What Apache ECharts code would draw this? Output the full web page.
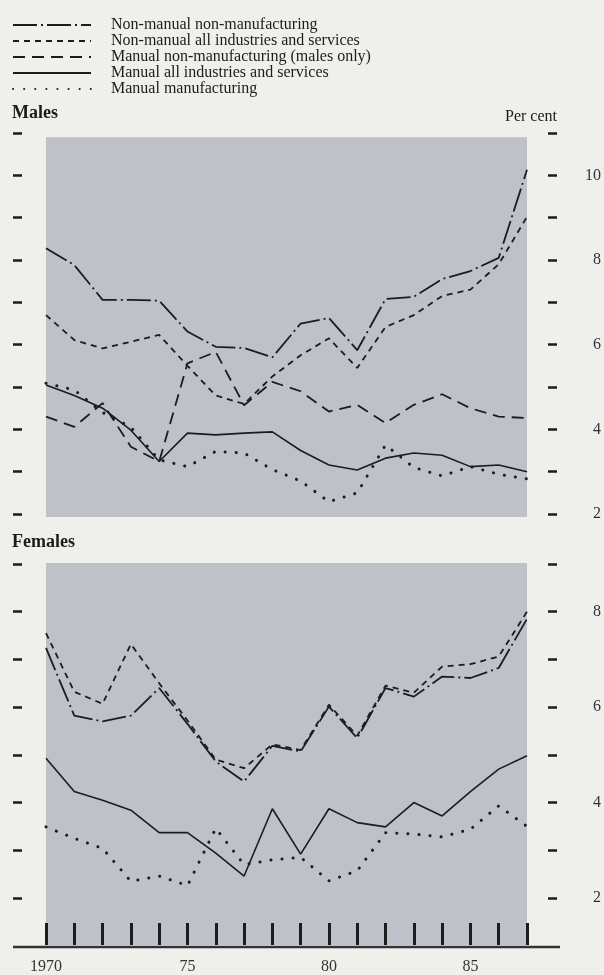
<!DOCTYPE html>
<html><head><meta charset="utf-8">
<script src="https://cdn.jsdelivr.net/npm/echarts@6/dist/echarts.min.js"></script>
<style>html,body{margin:0;padding:0;background:#efefec}#c{width:604px;height:975px}</style>
</head><body><div id="c"></div>
<script>
const years = [1970,1971,1972,1973,1974,1975,1976,1977,1978,1979,1980,1981,1982,1983,1984,1985,1986,1987];
const seriesNames = [
  'Non-manual non-manufacturing',
  'Non-manual all industries and services',
  'Manual non-manufacturing (males only)',
  'Manual all industries and services',
  'Manual manufacturing'
];
// Males (per cent)
const maleNonManualNonManuf = [8.28,7.88,7.06,7.06,7.04,6.31,5.95,5.92,5.7,6.5,6.63,5.87,7.08,7.13,7.55,7.74,8.05,10.13];
const maleNonManualAll      = [6.7,6.11,5.91,6.07,6.23,5.5,4.8,4.6,5.25,5.75,6.15,5.45,6.42,6.7,7.15,7.3,7.9,9.02];
const maleManualNonManuf    = [4.3,4.06,4.62,3.59,3.24,5.56,5.83,4.57,5.12,4.9,4.42,4.58,4.15,4.58,4.83,4.5,4.3,4.27];
const maleManualAll         = [5.05,4.8,4.5,3.98,3.24,3.91,3.87,3.91,3.94,3.5,3.16,3.04,3.32,3.44,3.39,3.12,3.16,3.0];
const maleManualManuf       = [5.09,4.93,4.4,4.05,3.28,3.12,3.48,3.44,3.05,2.78,2.29,2.5,3.63,3.1,2.9,3.12,2.94,2.83];
// Females (per cent)
const femNonManualNonManuf  = [7.24,5.82,5.7,5.82,6.4,5.65,4.86,4.44,5.19,5.07,6.01,5.35,6.4,6.22,6.64,6.61,6.82,7.85];
const femNonManualAll       = [7.55,6.32,6.07,7.32,6.5,5.72,4.9,4.72,5.22,5.1,6.05,5.4,6.45,6.3,6.85,6.9,7.06,8.0];
const femManualAll          = [4.93,4.23,4.05,3.84,3.37,3.37,2.94,2.46,3.87,2.92,3.87,3.58,3.49,4.0,3.72,4.23,4.7,4.98];
const femManualManuf        = [3.49,3.25,3.04,2.35,2.46,2.26,3.46,2.7,2.8,2.85,2.36,2.57,3.37,3.34,3.28,3.44,3.93,3.5];
// Axis ticks and labels
const maleTickValues   = [2,3,4,5,6,7,8,9,10,11];
const maleLabelValues  = [2,4,6,8,10];
const femTickValues    = [2,3,4,5,6,7,8,9];
const femLabelValues   = [2,4,6,8];
const yearLabelValues  = [1970,1975,1980,1985];

const FONT = 'Liberation Serif';
const INK = '#1c1c1c';
const GREY = '#bec1c8';
const styles = [
  {type:[24,4,2,4], width:1.8},
  {type:[6,5], width:1.8},
  {type:[12,7], width:1.8},
  {type:'solid', width:1.6},
  {type:[0.1,11], width:3, cap:'round'}
];
const pairs = arr => arr.map((v,i)=>[years[i], v]);
function mk(nameIdx, arr, xi, yi){
  return {
    name: seriesNames[nameIdx], type:'line', data: pairs(arr),
    xAxisIndex: xi, yAxisIndex: yi, symbol:'none', z:5,
    lineStyle: Object.assign({color: INK}, styles[nameIdx]),
    itemStyle:{color: INK}, silent:true
  };
}
function yAx(grid, min, max, pos, offset, ticks, labels){
  return {
    type:'value', gridIndex:grid, min:min, max:max, position:pos, offset:offset,
    axisLine:{show:false}, splitLine:{show:false},
    axisTick:{show:true, customValues:ticks, length:9, lineStyle:{width:2.5, color:INK}},
    axisLabel: labels ? {show:true, customValues:labels, align:'right', margin:53,
      fontSize:16, fontFamily:FONT, color:'#333'} : {show:false}
  };
}
const chart = echarts.init(document.getElementById('c'), null, {renderer:'canvas'});
chart.setOption({
  animation:false,
  backgroundColor:'#efefec',
  textStyle:{fontFamily:FONT},
  title:[
    {text:'Males', left:12, top:104, padding:0, textStyle:{fontSize:18, fontWeight:'bold', fontFamily:FONT, color:INK}},
    {text:'Females', left:12, top:533, padding:0, textStyle:{fontSize:18, fontWeight:'bold', fontFamily:FONT, color:INK}},
    {text:'Per cent', right:47, top:109, padding:0, textStyle:{fontSize:16, fontWeight:'normal', fontFamily:FONT, color:INK}}
  ],
  legend:{
    data: seriesNames, orient:'vertical', left:12, top:17, padding:0,
    itemWidth:78, itemHeight:14, itemGap:0, selectedMode:false,
    itemStyle:{opacity:0},
    textStyle:{fontSize:16, lineHeight:14, fontFamily:FONT, color:INK, padding:[0,0,0,15]}
  },
  grid:[
    {left:46, right:77, top:133, height:384, show:false},
    {left:46, right:77, top:563, height:382, show:true, backgroundColor:GREY, borderWidth:0}
  ],
  xAxis:[
    {type:'value', gridIndex:0, min:1970, max:1987, show:false},
    {type:'value', gridIndex:1, min:1970, max:1987, interval:1,
      axisLine:{show:false}, splitLine:{show:false},
      axisTick:{show:true, inside:true, length:22, lineStyle:{width:3, color:INK}},
      axisLabel:{customValues:yearLabelValues, margin:14, fontSize:16, fontFamily:FONT, color:'#333',
        formatter: v => v === 1970 ? '1970' : String(v % 100)}}
  ],
  yAxis:[
    yAx(0, 1.93, 11, 'left', 24, maleTickValues, null),
    yAx(0, 1.93, 11, 'right', 21, maleTickValues, maleLabelValues),
    yAx(1, 1.015, 9.02, 'left', 24, femTickValues, null),
    yAx(1, 1.015, 9.02, 'right', 21, femTickValues, femLabelValues)
  ],
  graphic:[
    {type:'line', shape:{x1:13, y1:947, x2:560, y2:947}, style:{stroke:'#333', lineWidth:2.5}, silent:true}
  ],
  series:[
    {type:'line', name:'bg', data:[], xAxisIndex:0, yAxisIndex:0, z:1, silent:true,
      markArea:{silent:true, itemStyle:{color:GREY}, data:[[{coord:[1970,1.93]},{coord:[1987,10.9]}]]}},
    mk(0, maleNonManualNonManuf, 0, 0),
    mk(1, maleNonManualAll, 0, 0),
    mk(2, maleManualNonManuf, 0, 0),
    mk(3, maleManualAll, 0, 0),
    mk(4, maleManualManuf, 0, 0),
    mk(0, femNonManualNonManuf, 1, 2),
    mk(1, femNonManualAll, 1, 2),
    mk(3, femManualAll, 1, 2),
    mk(4, femManualManuf, 1, 2)
  ]
});
</script></body></html>
